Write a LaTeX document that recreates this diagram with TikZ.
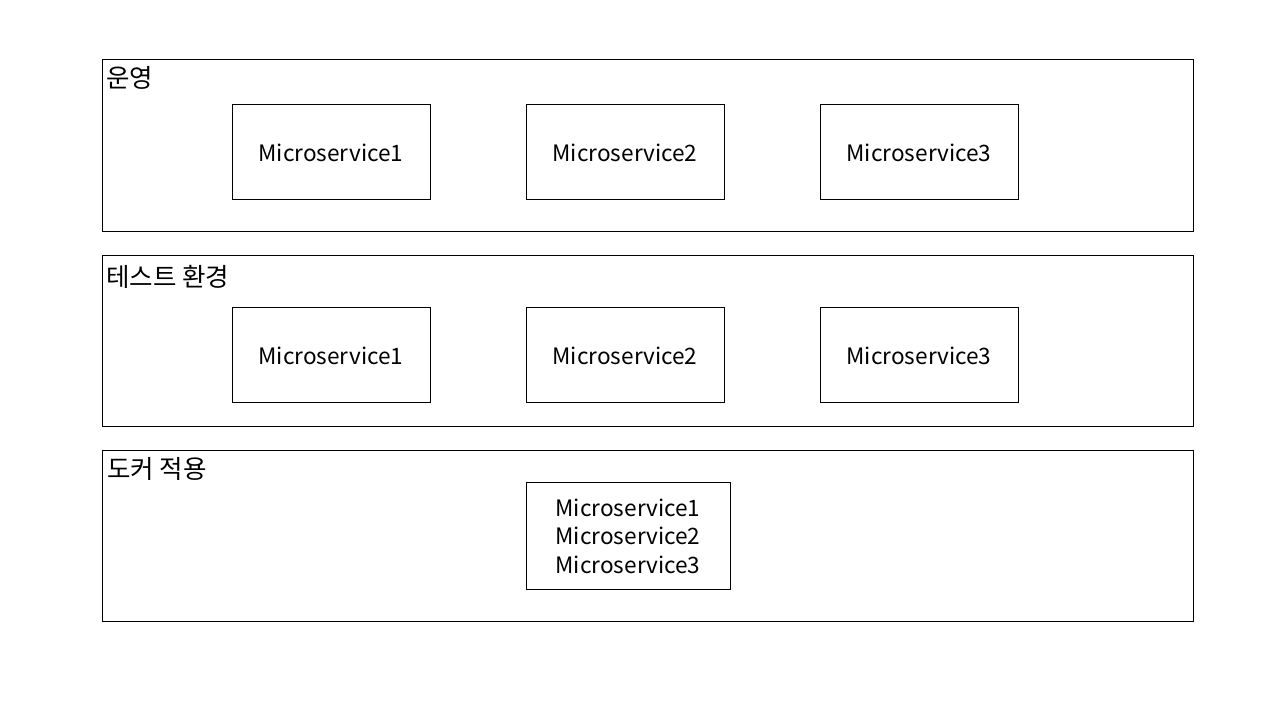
\documentclass[tikz,border=0pt]{standalone}
\usepackage{fontspec}
\setmainfont{Noto Sans CJK KR}
\begin{document}
\begin{tikzpicture}[x=1pt,y=-1pt,
  outer/.style={draw=black,line width=0.9pt},
  svc/.style={draw=black,line width=0.9pt,fill=white},
  lbl/.style={anchor=west,inner sep=0pt,font=\fontsize{25.5}{30}\selectfont},
  txt/.style={font=\fontsize{22.6}{28.5}\selectfont,align=center}]
\useasboundingbox (0,0) rectangle (1280,720);
% group 1
\draw[outer] (102,59) rectangle (1193,231);
\node[lbl] (l1) at (106,78) {운영};
\draw[svc] (232,104) rectangle (430,199);
\draw[svc] (526,104) rectangle (724,199);
\draw[svc] (820,104) rectangle (1018,199);
\node[txt] (a1) at (331,153) {Microservice1};
\node[txt] (a2) at (625,153) {Microservice2};
\node[txt] (a3) at (919,153) {Microservice3};
% group 2
\draw[outer] (102,255) rectangle (1193,426);
\node[lbl] (l2) at (106,277) {테스트 환경};
\draw[svc] (232,307) rectangle (430,402);
\draw[svc] (526,307) rectangle (724,402);
\draw[svc] (820,307) rectangle (1018,402);
\node[txt] (b1) at (331,356) {Microservice1};
\node[txt] (b2) at (625,356) {Microservice2};
\node[txt] (b3) at (919,356) {Microservice3};
% group 3
\draw[outer] (102,450) rectangle (1193,621);
\node[lbl] (l3) at (107,469) {도커 적용};
\draw[svc] (526,482) rectangle (730,589);
\node[txt] (c1) at (628,536) {Microservice1\\Microservice2\\Microservice3};
\end{tikzpicture}
\end{document}
